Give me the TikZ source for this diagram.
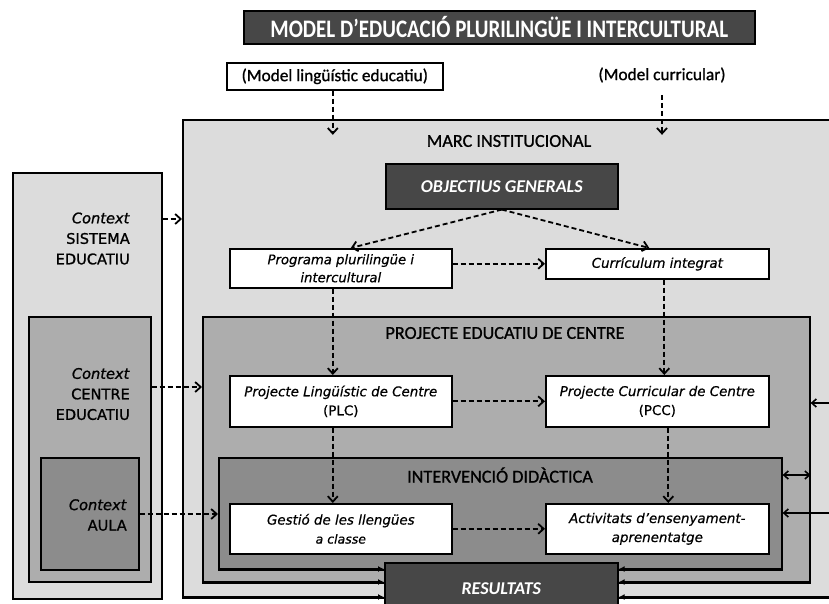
\documentclass[tikz,border=0pt]{standalone}
\usepackage{fontspec}
\setmainfont{DejaVu Sans}
\newfontfamily\osb[FakeBold=1]{DejaVu Sans}
\newfontfamily\osf[FakeBold=0.6]{DejaVu Sans}
\newfontfamily\calfont{Carlito}
\newfontfamily\calb[FakeBold=1]{Carlito}
\usetikzlibrary{arrows.meta,calc}
\definecolor{lg}{HTML}{DCDCDC}
\definecolor{mg}{HTML}{ADADAD}
\definecolor{dg}{HTML}{8C8C8C}
\definecolor{xg}{HTML}{474747}
\tikzset{
  boxbase/.style={draw=black,line width=1.6pt,inner sep=0pt,anchor=north west},
  whitebox/.style={boxbase,fill=white,align=center,font=\osf\fontsize{13.4}{19}\selectfont\itshape},
  darkbox/.style={boxbase,fill=xg,text=white,font=\calfont\fontsize{18}{20}\selectfont\bfseries\itshape},
  ctxtext/.style={align=right,anchor=east,inner sep=0pt,font=\osb\fontsize{14.6}{20.5}\selectfont},
  calt/.style={font=\calb\fontsize{18.2}{20}\selectfont,inner sep=0pt},
  dasharrow/.style={line width=1.8pt,dash pattern=on 5pt off 3pt,-{Straight Barb[length=5.5pt,width=10pt,line width=1.8pt]}},
  solarrow/.style={line width=1.4pt,-{Straight Barb[length=4.5pt,width=8pt,line width=1.6pt]}},
  dblarrow/.style={line width=1.4pt,{Straight Barb[length=4.5pt,width=8pt,line width=1.6pt]}-{Straight Barb[length=4.5pt,width=8pt,line width=1.6pt]}},
  resarrow/.style={line width=1.3pt,-{Latex[length=6pt,width=6pt]}},
}
\begin{document}
\begin{tikzpicture}[x=1pt,y=-1pt]
\useasboundingbox (0,0) rectangle (829,604);
\clip (0,0) rectangle (829,604);
% title
\node[boxbase,fill=xg,minimum width=511pt,minimum height=33pt] (title) at (243,10) {};
\node[text=white,font=\calfont\fontsize{21}{22}\selectfont\bfseries,inner sep=0pt] (titletext) at (title.center) {\scalebox{1}[1.2]{MODEL D’EDUCACIÓ PLURILINGÜE I INTERCULTURAL}};
% top models
\node[boxbase,fill=white,minimum width=216pt,minimum height=27pt,font=\calb\fontsize{17.3}{18}\selectfont] (mll) at (226,62) {(Model lingüístic educatiu)};
\node[font=\calb\fontsize{17.3}{18}\selectfont,inner sep=0pt] (mcur) at (662,75) {(Model curricular)};
\coordinate (mcurb) at (662,95);
% left context column
\node[boxbase,fill=lg,minimum width=149pt,minimum height=426pt] (ctxs) at (12,172) {};
\node[boxbase,fill=mg,minimum width=122pt,minimum height=265pt] (ctxc) at (28,316) {};
\node[boxbase,fill=dg,minimum width=98pt,minimum height=112pt] (ctxa) at (40,457) {};
\node[ctxtext] (ts) at (130,238.5) {\textit{Context}\\SISTEMA\\EDUCATIU};
\node[ctxtext] (tc) at (130,394) {\textit{Context}\\CENTRE\\EDUCATIU};
\node[ctxtext] (ta) at (127,515) {\textit{Context}\\AULA};
% right nested frames
\node[boxbase,fill=lg,minimum width=680pt,minimum height=478pt] (marc) at (182,119) {};
\node[boxbase,fill=mg,minimum width=607pt,minimum height=266pt] (pec) at (202,316) {};
\node[boxbase,fill=dg,minimum width=563pt,minimum height=112pt] (intv) at (218,457) {};
\node[calt] (marct) at (509,141) {MARC INSTITUCIONAL};
\node[calt] (pect) at (505,333) {PROJECTE EDUCATIU DE CENTRE};
\node[calt] (intt) at (500,475) {INTERVENCIÓ DIDÀCTICA};
% inner boxes
\node[darkbox,minimum width=232pt,minimum height=45pt] (obj) at (385,163) {OBJECTIUS GENERALS};
\node[whitebox,minimum width=222pt,minimum height=39pt,font=\osf\fontsize{13.2}{18}\selectfont\itshape] (prog) at (229,248) {Programa plurilingüe i\\intercultural};
\node[whitebox,minimum width=223pt,minimum height=30pt] (curr) at (545,248) {Currículum integrat};
\node[whitebox,minimum width=222pt,minimum height=51pt] (plc) at (229,375) {Projecte Lingüístic de Centre\\{\upshape (PLC)}};
\node[whitebox,minimum width=223pt,minimum height=51pt] (pcc) at (545,375) {Projecte Curricular de Centre\\{\upshape (PCC)}};
\node[whitebox,minimum width=222pt,minimum height=50pt] (gest) at (229,503) {Gestió de les llengües\\{\fontsize{12.5}{19}\selectfont a classe}};
\node[whitebox,minimum width=223pt,minimum height=50pt] (act) at (545,503) {Activitats d’ensenyament-\\aprenentatge};
\node[darkbox,minimum width=233pt,minimum height=55pt] (res) at (384,562) {\raisebox{4pt}{RESULTATS}};
% off-page coordinates
\coordinate (r1) at (850,403);
\coordinate (r2) at (850,513);
% dashed connectors
\draw[dasharrow] ([xshift=-2pt]mll.south) -- ([xshift=-2pt]mll.south |- marct.north);
\draw[dasharrow] (mcurb) -- (mcurb |- marct.north);
\draw[dasharrow] (obj.south) -- ([xshift=10pt]prog.north);
\draw[dasharrow] (obj.south) -- ([xshift=-8pt]curr.north);
\draw[dasharrow] (prog.east |- curr.west) -- (curr.west);
\draw[dasharrow] ([xshift=-8pt]prog.south) -- ([xshift=-8pt]plc.north);
\draw[dasharrow] ([xshift=7pt]curr.south) -- ([xshift=7pt]pcc.north);
\draw[dasharrow] (plc.east) -- (pcc.west);
\draw[dasharrow] ([xshift=-8pt]plc.south) -- ([xshift=-8pt]gest.north);
\draw[dasharrow] ([xshift=11pt]pcc.south) -- ([xshift=11pt]act.north);
\draw[dasharrow] (gest.east) -- (act.west);
\draw[dasharrow] (ctxs.east |- 0,219) -- (marc.west |- 0,219);
\draw[dasharrow] (ctxc.east |- 0,387) -- (pec.west |- 0,387);
\draw[dasharrow] (ctxa.east |- 0,514) -- (intv.west |- 0,514);
% right side solid connectors
\draw[solarrow] (r1) -- (pec.east |- r1);
\draw[dblarrow] (intv.east |- 0,475) -- (pec.east |- 0,475);
\draw[dblarrow] (intv.east |- r2) -- (r2);
% arrows into RESULTATS
\foreach \yy/\src in {569/intv,582/pec,597/marc}{
  \draw[resarrow] (\src.west |- 0,\yy) -- (res.west |- 0,\yy);
  \draw[resarrow] (\src.east |- 0,\yy) -- (res.east |- 0,\yy);
}
\end{tikzpicture}
\end{document}
